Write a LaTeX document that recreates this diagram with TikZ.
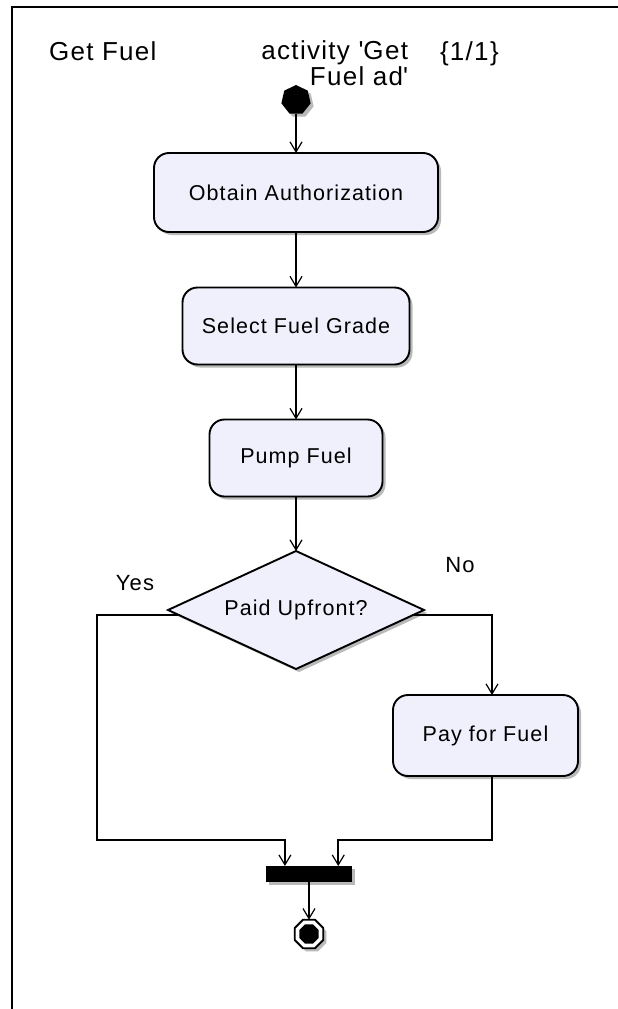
\documentclass[tikz,border=0pt]{standalone}
\usepackage{fontspec}
\setmainfont{Liberation Sans}[LetterSpace=5]
\usetikzlibrary{shapes.geometric,shadows,arrows.meta,calc}

\definecolor{actfill}{RGB}{240,240,253}
\definecolor{shade}{RGB}{185,185,185}

\begin{document}
\begin{tikzpicture}[x=1pt,y=-1pt,
  every node/.style={inner sep=0pt, outer sep=0pt},
  shadowed/.style={drop shadow={shadow xshift=3pt, shadow yshift=-3pt, fill=shade, opacity=1}},
  boxfont/.style={font=\fontsize{21.5}{24}\selectfont},
  action/.style={draw=black, line width=1.9pt, rounded corners=15pt, fill=actfill, shadowed, boxfont},
  decision/.style={diamond, shape aspect=2.17, draw=black, line width=1.9pt, fill=actfill, shadowed, boxfont},
  flow/.style={draw=black, line width=1.7pt, -{Straight Barb[length=10pt,width=12pt,line width=1.2pt]}},
  lbl/.style={font=\fontsize{22}{24}\selectfont},
  title/.style={font=\fontsize{26}{26}\selectfont}]

\useasboundingbox (0,0) rectangle (618,1009);

% diagram frame (top and left edges)
\draw[line width=1.6pt] (618,7) -- (12,7) -- (12,1009);

% header
\node[title, anchor=base west] (name) at (49,60) {Get Fuel};
\node[title, anchor=north east, align=right] (kind) at (408,41) {activity \textquotesingle Get\\Fuel ad\textquotesingle};
\node[title, anchor=base west] (page) at (440,60) {\{1/1\}};

% initial node
\node[regular polygon, regular polygon sides=7, minimum size=30pt, fill=black, shadowed] (start) at (296,100) {};

% actions
\node[action, minimum width=284pt, minimum height=79pt] (auth) at (296,192.5) {Obtain Authorization};
\node[action, minimum width=227pt, minimum height=77pt] (grade) at (296,326) {Select Fuel Grade};
\node[action, minimum width=173pt, minimum height=77pt] (pump) at (296,458) {Pump Fuel};
\node[decision, minimum width=256pt, minimum height=118pt] (paid) at (296,610) {Paid Upfront?};
\node[action, minimum width=185pt, minimum height=81pt] (pay) at (485.5,735.5) {Pay for Fuel};

% join bar and final node
\node[fill=black, minimum width=86pt, minimum height=16pt, shadowed] (join) at (309,874) {};
\node[regular polygon, regular polygon sides=8, minimum size=31pt, draw=black, line width=1.8pt, fill=white, shadowed] (stop) at (309,934) {};
\node[regular polygon, regular polygon sides=8, minimum size=21pt, fill=black] (stopdot) at (stop.center) {};

% guard labels
\node[lbl, anchor=base] (yes) at (135,590) {Yes};
\node[lbl, anchor=base] (no) at (460,572) {No};

% flows
\draw[flow] (start) -- (auth);
\draw[flow] (auth) -- (grade);
\draw[flow] (grade) -- (pump);
\draw[flow] (pump) -- (paid);

\coordinate (dl) at ($(paid.west)!0.09!(paid.south)$);
\coordinate (dr) at ($(paid.east)!0.09!(paid.south)$);
\coordinate (yesrun) at (97,840);
\coordinate (norun) at (492,616);
\coordinate (joinL) at ($(join.north west)!0.22!(join.north east)$);
\coordinate (joinR) at ($(join.north west)!0.84!(join.north east)$);

\draw[flow] (dl) -| (yesrun) -| (joinL);
\draw[flow] (dr) -| (norun |- pay.north);
\draw[flow] (norun |- pay.south) -- (norun |- yesrun) -| (joinR);
\draw[flow] (join) -- (stop);

\end{tikzpicture}
\end{document}
